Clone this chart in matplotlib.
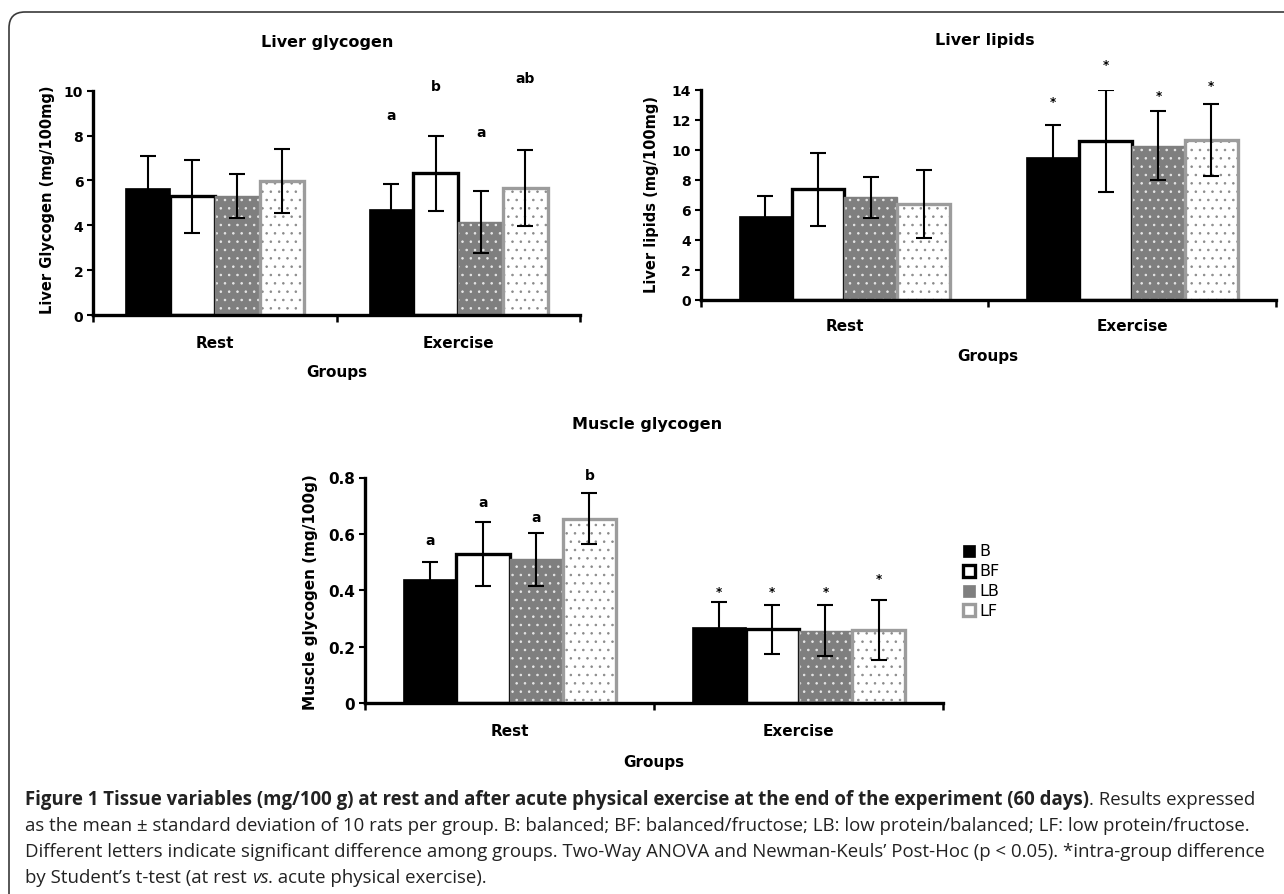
import matplotlib
matplotlib.use("Agg")
import matplotlib.pyplot as plt
import numpy as np
from matplotlib.patches import FancyBboxPatch, Rectangle
from matplotlib.transforms import IdentityTransform

W, H = 1284, 895

groups = ["Rest", "Exercise"]
diets = ["B", "BF", "LB", "LF"]

# rows = diet (B, BF, LB, LF), cols = Rest, Exercise
liver_gly_mean = np.array([[5.67, 4.73], [5.29, 6.31], [5.32, 4.15], [5.99, 5.66]])
liver_gly_sd = np.array([[1.42, 1.12], [1.64, 1.67], [0.98, 1.37], [1.43, 1.70]])
liver_gly_marks = ["a", "b", "a", "ab"]          # exercise group
liver_gly_mark_y = [8.9, 10.2, 8.15, 10.55]

liver_lip_mean = np.array([[5.59, 9.56], [7.36, 10.61], [6.83, 10.27], [6.39, 10.65]])
liver_lip_sd = np.array([[1.31, 2.10], [2.44, 3.40], [1.35, 2.30], [2.29, 2.40]])
liver_lip_marks = ["*", "*", "*", "*"]           # exercise group
liver_lip_mark_y = [13.2, 15.7, 13.6, 14.3]

muscle_mean = np.array([[0.440, 0.270], [0.530, 0.263], [0.511, 0.257], [0.654, 0.260]])
muscle_sd = np.array([[0.060, 0.088], [0.113, 0.087], [0.094, 0.090], [0.090, 0.107]])
muscle_rest_marks = ["a", "a", "a", "b"]
muscle_rest_mark_y = [0.578, 0.712, 0.659, 0.81]
muscle_ex_marks = ["*", "*", "*", "*"]
muscle_ex_mark_y = [0.395, 0.395, 0.395, 0.442]

BAR_W = 0.184
GRAY = "#7f7f7f"
LGRAY = "#9c9c9c"

plt.rcParams["hatch.linewidth"] = 0.6

fig = plt.figure(figsize=(W / 100, H / 100), dpi=100)


def fx(x):
    return x / W


def fy(y):
    return 1 - y / H


def draw_bars(ax, means, sds):
    x = np.arange(len(groups))
    for i, d in enumerate(diets):
        xs = x + (i - 1.5) * BAR_W
        m = means[i]
        z = 2 + i * 0.1
        if d == "B":
            ax.bar(xs, m, BAR_W, color="black", edgecolor="black", linewidth=0.5, zorder=z)
        elif d == "BF":
            ax.bar(xs, m, BAR_W, color="white", edgecolor="black", linewidth=2.4, zorder=z)
        elif d == "LB":
            ax.bar(xs, m, BAR_W, color=GRAY, edgecolor="#e8e8e8", linewidth=0, hatch="..", zorder=z)
            ax.bar(xs, m, BAR_W, fill=False, edgecolor=GRAY, linewidth=1.0, zorder=z)
        else:
            ax.bar(xs, m, BAR_W, color="white", edgecolor="#8a8a8a", linewidth=0, hatch="..", zorder=z)
            ax.bar(xs, m, BAR_W, fill=False, edgecolor=LGRAY, linewidth=2.4, zorder=z)
        ax.errorbar(xs, m, yerr=sds[i], fmt="none", ecolor="black", elinewidth=1.5,
                    capsize=6, capthick=1.5, zorder=7)


def style_axes(ax, ymax, ystep, ylabels, tick_fs, grp_fs, grp_off, xlab_off):
    ax.set_xlim(-0.5, 1.5)
    ax.set_ylim(0, ymax)
    for s in ["top", "right"]:
        ax.spines[s].set_visible(False)
    for s in ["left", "bottom"]:
        ax.spines[s].set_linewidth(2.4)
        ax.spines[s].set_zorder(6)
    ax.set_yticks(np.arange(0, ymax + ystep / 2, ystep))
    ax.set_yticklabels(ylabels, fontsize=tick_fs, fontweight="bold")
    ax.tick_params(axis="y", direction="out", length=4, width=1.5, pad=3)
    ax.set_xticks([])
    ax.set_xticks([-0.5, 0.5, 1.5], minor=True)
    ax.tick_params(axis="x", which="minor", direction="out", length=5, width=1.8)
    for xi, g in enumerate(groups):
        ax.annotate(g, xy=(xi, 0), xycoords=("data", "axes fraction"),
                    xytext=(0, -grp_off * 0.72), textcoords="offset points",
                    ha="center", va="center", fontsize=grp_fs, fontweight="bold")
    ax.annotate("Groups", xy=(0.5, 0), xycoords=("data", "axes fraction"),
                xytext=(0, -xlab_off * 0.72), textcoords="offset points",
                ha="center", va="center", fontsize=grp_fs, fontweight="bold")


def marks(ax, group, labels, ys, fs):
    for i, (lab, yv) in enumerate(zip(labels, ys)):
        ax.text(group + (i - 1.5) * BAR_W, yv, lab, ha="center", va="center",
                fontsize=fs, fontweight="bold", clip_on=False)


# Liver glycogen
ax1 = fig.add_axes([fx(93), fy(316), (580 - 93) / W, (316 - 91.7) / H])
draw_bars(ax1, liver_gly_mean, liver_gly_sd)
style_axes(ax1, 10, 2, ["0", "2", "4", "6", "8", "10"], 10, 11, 27, 57)
marks(ax1, 1, liver_gly_marks, liver_gly_mark_y, 10)
fig.text(fx(327), fy(42), "Liver glycogen", ha="center", va="center", fontsize=11.5, fontweight="bold")
fig.text(fx(48), fy(200), "Liver Glycogen (mg/100mg)", rotation=90, ha="center", va="center",
         fontsize=10.5, fontweight="bold")

# Liver lipids
ax2 = fig.add_axes([fx(700.7), fy(300.7), (1275.7 - 700.7) / W, (300.7 - 91) / H])
draw_bars(ax2, liver_lip_mean, liver_lip_sd)
style_axes(ax2, 14, 2, ["0", "2", "4", "6", "8", "10", "12", "14"], 10, 11, 26, 56)
marks(ax2, 1, liver_lip_marks, liver_lip_mark_y, 8.5)
fig.text(fx(985), fy(41), "Liver lipids", ha="center", va="center", fontsize=11.5, fontweight="bold")
fig.text(fx(652), fy(195), "Liver lipids (mg/100mg)", rotation=90, ha="center", va="center",
         fontsize=10.5, fontweight="bold")

# Muscle glycogen
ax3 = fig.add_axes([fx(365), fy(704.3), (943.4 - 365) / W, (704.3 - 478.5) / H])
draw_bars(ax3, muscle_mean, muscle_sd)
style_axes(ax3, 0.8, 0.2, ["0", "0.2", "0.4", "0.6", "0.8"], 11, 11, 27, 58)
marks(ax3, 0, muscle_rest_marks, muscle_rest_mark_y, 10)
marks(ax3, 1, muscle_ex_marks, muscle_ex_mark_y, 8.5)
fig.text(fx(647), fy(425), "Muscle glycogen", ha="center", va="center", fontsize=11.5, fontweight="bold")
fig.text(fx(311), fy(592), "Muscle glycogen (mg/100g)", rotation=90, ha="center", va="center",
         fontsize=11, fontweight="bold")

# legend drawn by hand next to the muscle panel
leg_y = [552, 572, 592, 611]
leg_face = ["black", "white", GRAY, "white"]
leg_edge = ["black", "black", GRAY, LGRAY]
leg_lw = [0.5, 2.4, 0.5, 2.4]
for d, yy, fc, ec, lw in zip(diets, leg_y, leg_face, leg_edge, leg_lw):
    fig.add_artist(Rectangle((963, H - yy - 6), 12, 12, facecolor=fc, edgecolor=ec,
                             linewidth=lw, transform=IdentityTransform()))
    fig.text(fx(979), fy(yy), d, ha="left", va="center", fontsize=11.5)

# rounded frame
fig.add_artist(FancyBboxPatch((9, -40), 1330, H - 13 + 40, boxstyle="round,pad=0,rounding_size=16",
                              facecolor="none", edgecolor="#3a3a3a", linewidth=1.2,
                              transform=IdentityTransform()))

# caption
cap_font = ["Open Sans", "DejaVu Sans"]
renderer = fig.canvas.get_renderer()


def run_width(s, size, **kw):
    t = fig.text(0, 0, s + "|", fontsize=size, family=cap_font, **kw)
    bar = fig.text(0, 0, "|", fontsize=size, family=cap_font, **kw)
    w = t.get_window_extent(renderer).width - bar.get_window_extent(renderer).width
    t.remove()
    bar.remove()
    return w


def draw_runs(x0, ybase, runs, size):
    x = x0
    for s, kw in runs:
        fig.text(fx(x), fy(ybase), s, fontsize=size, family=cap_font, va="baseline", ha="left",
                 color="#222222", **kw)
        x += run_width(s, size, **kw)


B = {"fontweight": "bold"}
N = {}
I = {"fontstyle": "italic"}
lines = [
    [("Figure 1 Tissue variables (mg/100 g) at rest and after acute physical exercise at the end of "
      "the experiment (60 days)", B), (". Results expressed", N)],
    [("as the mean \u00b1 standard deviation of 10 rats per group. B: balanced; BF: balanced/fructose; "
      "LB: low protein/balanced; LF: low protein/fructose.", N)],
    [("Different letters indicate significant difference among groups. Two-Way ANOVA and "
      "Newman-Keuls\u2019 Post-Hoc (p < 0.05). *intra-group difference", N)],
    [("by Student\u2019s t-test (at rest ", N), ("vs", I), (". acute physical exercise).", N)],
]
line_end = [1265, 1245, 1262]
s0 = 12
cap_size = min(s0 * (end - 25) / sum(run_width(s, s0, **kw) for s, kw in ln)
               for ln, end in zip(lines[:3], line_end))
for ln, yb in zip(lines, [805, 831, 857, 883]):
    draw_runs(25, yb, ln, cap_size)

fig.savefig("out.png", dpi=100)
